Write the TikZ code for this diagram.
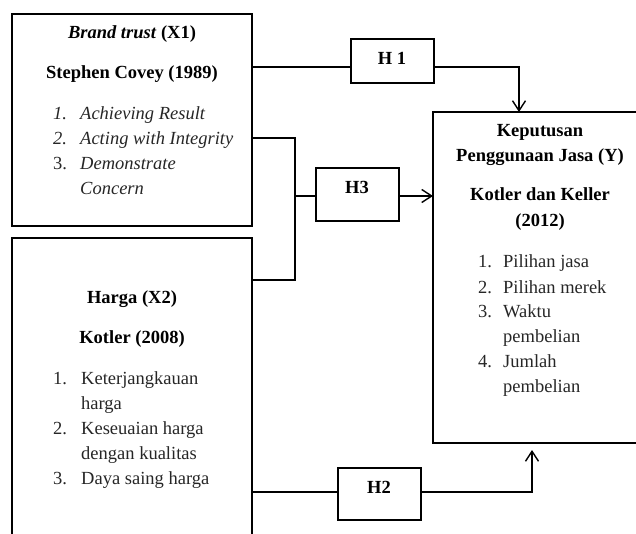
\documentclass[tikz,border=0pt]{standalone}
\usepackage{fontspec}
\setmainfont{Liberation Serif}
\usetikzlibrary{arrows.meta}
\definecolor{listcol}{RGB}{38,38,38}
\begin{document}
\begin{tikzpicture}[x=1pt,y=-1pt,
  box/.style={draw, line width=2pt, inner sep=0pt, outer sep=0pt, anchor=north west},
  hbox/.style={draw, line width=1.4pt, inner sep=0pt, outer sep=0pt, anchor=north west},
  conn/.style={line width=1.4pt},
  arr/.style={conn, -{Straight Barb[length=10pt,width=13pt,line width=1.4pt]}},
  ttl/.style={font=\fontsize{18.5}{22}\selectfont\bfseries, anchor=base, inner sep=0pt},
  itm/.style={font=\fontsize{18.5}{22}\selectfont, text=listcol, anchor=base west, inner sep=0pt},
]
\useasboundingbox (0,0) rectangle (636,534);
\clip (0,0) rectangle (636,534);

% boxes
\node[box, minimum width=240pt, minimum height=212pt] (x1) at (12,14) {};
\node[box, minimum width=240pt, minimum height=330pt] (x2) at (12,238) {};
\node[box, minimum width=215pt, minimum height=331pt] (y) at (433,112) {};
\node[hbox, minimum width=83pt, minimum height=44pt] (h1) at (351,39) {};
\node[hbox, minimum width=83pt, minimum height=53pt] (h3) at (316,168) {};
\node[hbox, minimum width=83pt, minimum height=52pt] (h2) at (338,468) {};

% H labels
\node[ttl] (h1t) at (392,65) {H 1};
\node[ttl] (h3t) at (357,194) {H3};
\node[ttl] (h2t) at (379,493) {H2};

% X1 texts
\node[ttl] (x1a) at (132,39) {\textit{Brand trust} (X1)};
\node[ttl] (x1b) at (132,79) {Stephen Covey (1989)};
\node[itm] (x1n1) at (53,120) {\textit{1.}};
\node[itm] (x1i1) at (80,120) {\textit{Achieving Result}};
\node[itm] (x1n2) at (53,145) {\textit{2.}};
\node[itm] (x1i2) at (80,145) {\textit{Acting with Integrity}};
\node[itm] (x1n3) at (53,170) {3.};
\node[itm] (x1i3) at (80,170) {\textit{Demonstrate}};
\node[itm] (x1i3b) at (80,195) {\textit{Concern}};

% X2 texts
\node[ttl] (x2a) at (132,303) {Harga (X2)};
\node[ttl] (x2b) at (132,343) {Kotler (2008)};
\node[itm] (x2n1) at (53,384) {1.};
\node[itm] (x2i1) at (81,384) {Keterjangkauan};
\node[itm] (x2i1b) at (81,409) {harga};
\node[itm] (x2n2) at (53,434) {2.};
\node[itm] (x2i2) at (81,434) {Keseuaian harga};
\node[itm] (x2i2b) at (81,459) {dengan kualitas};
\node[itm] (x2n3) at (53,484) {3.};
\node[itm] (x2i3) at (81,484) {Daya saing harga};

% Y texts
\node[ttl] (ya) at (540,137) {Keputusan};
\node[ttl] (yb) at (540,162) {Penggunaan Jasa (Y)};
\node[ttl] (yc) at (540,201) {Kotler dan Keller};
\node[ttl] (yd) at (540,227) {(2012)};
\node[itm] (yn1) at (478,268) {1.};
\node[itm] (yi1) at (503,268) {Pilihan jasa};
\node[itm] (yn2) at (478,293) {2.};
\node[itm] (yi2) at (503,293) {Pilihan merek};
\node[itm] (yn3) at (478,317) {3.};
\node[itm] (yi3) at (503,317) {Waktu};
\node[itm] (yi3b) at (503,342) {pembelian};
\node[itm] (yn4) at (478,367) {4.};
\node[itm] (yi4) at (503,367) {Jumlah};
\node[itm] (yi4b) at (503,392) {pembelian};

% connectors
\coordinate (j3) at (295,196);
\coordinate (h2up) at (532,450);
\draw[conn] (x1.east |- 0,67) -- (h1.west |- 0,67);
\draw[arr] (h1.east |- 0,67) -| (y.north -| 519,0);
\draw[conn] (x1.east |- 0,138) -| (j3) |- (x2.east |- 0,280);
\draw[conn] (j3) -- (h3.west |- j3);
\draw[arr] (h3.east |- j3) -- (y.west |- j3);
\draw[conn] (x2.east |- 0,492) -- (h2.west |- 0,492);
\draw[arr] (h2.east |- 0,492) -| (h2up);
\end{tikzpicture}
\end{document}
